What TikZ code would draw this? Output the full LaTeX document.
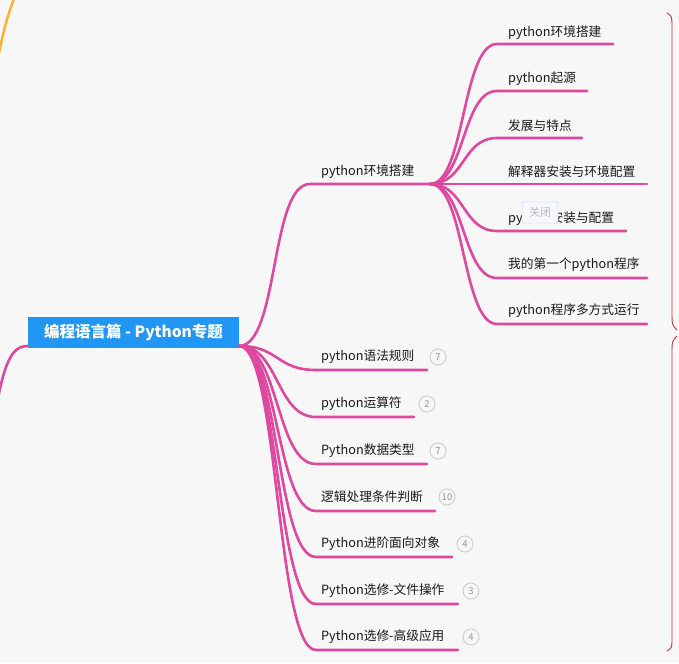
\documentclass[tikz,border=0pt]{standalone}
\usepackage{fontspec}
\setmainfont{Noto Sans CJK SC}
\definecolor{bgc}{RGB}{247,247,247}
\definecolor{pinkc}{RGB}{222,72,158}
\definecolor{rootc}{RGB}{33,150,243}
\definecolor{orangec}{RGB}{253,178,40}
\definecolor{bracec}{RGB}{196,52,52}
\definecolor{textc}{RGB}{25,25,25}
\definecolor{badgec}{RGB}{208,208,208}
\definecolor{badgenum}{RGB}{150,150,150}
\begin{document}
\begin{tikzpicture}[x=1pt,y=-1pt,
  lbl/.style={anchor=west, inner sep=0pt, font=\fontsize{12.7}{14}\selectfont, text=textc},
  br/.style={draw=pinkc, line width=2.6pt, line cap=round},
  badge/.style={circle, draw=badgec, line width=1pt, minimum size=16pt, inner sep=0pt, font=\fontsize{9.5}{10}\selectfont, text=badgenum},
  rootbox/.style={fill=rootc, text=white, minimum width=211pt, minimum height=31pt, inner sep=0pt, font=\fontsize{15.5}{17}\selectfont\bfseries},
  bracestyle/.style={draw=bracec, line width=0.9pt},
  closebox/.style={draw=black!22, fill=white!97!blue, rounded corners=2pt, minimum width=36pt, minimum height=21pt, inner sep=0pt, text=black!28, font=\fontsize{11}{12}\selectfont}
]
\useasboundingbox (0,0) rectangle (679,663);
\fill[bgc] (0,0) rectangle (679,663);
\begin{scope}
\clip (0,0) rectangle (679,663);
% orange curve top-left
\coordinate (o1) at (15,-4);
\coordinate (o2) at (-2,58);
\draw[draw=orangec, line width=2.4pt] (o1) .. controls (8,14) and (3,32) .. (o2);
% root
\node[rootbox] (root) at (133.5,332.5) {编程语言篇 - Python专题};
\coordinate (rs) at (239,346);
\coordinate (rl) at (28,346);
\coordinate (lfar) at (-6,420);
\draw[br] (rl) .. controls (12,346) and (4,360) .. (lfar);
% level 1 first child
\node[lbl] (a) at (321,172) {python环境搭建};
\coordinate (as) at (310,184);
\coordinate (ae) at (430,184);
\draw[br] (rs) .. controls +(40,0) and +(-40,0) .. (as) -- (ae);
% level 2 children
\foreach \n/\t/\yt/\yl/\xe in {
  b1/python环境搭建/33/44/613,
  b2/python起源/79/91/587,
  b3/发展与特点/126/138/582,
  b4/解释器安装与环境配置/172/184/647,
  b5/python安装与配置/219/231/626,
  b6/我的第一个python程序/265/278/647,
  b7/python程序多方式运行/311/324/647}{
  \node[lbl] (\n) at (508,\yt) {\t};
  \coordinate (\n s) at (497,\yl);
  \coordinate (\n e) at (\xe,\yl);
  \draw[br] (ae) .. controls +(35,0) and +(-35,0) .. (\n s) -- (\n e);
}
% other level 1 children
\foreach \n/\t/\yt/\yl/\xe/\bx/\num in {
  c1/python语法规则/357/370/427/438/7,
  c2/python运算符/404/417/414/427/2,
  c3/Python数据类型/451/464/427/438/7,
  c4/逻辑处理条件判断/497/511/435/447/10,
  c5/Python进阶面向对象/544/557/452/465/4,
  c6/Python选修-文件操作/591/604/458/471/3,
  c7/Python选修-高级应用/637/650/458/471/4}{
  \node[lbl] (\n) at (321,\yt) {\t};
  \coordinate (\n s) at (316,\yl);
  \coordinate (\n e) at (\xe,\yl);
  \draw[br] (rs) .. controls +(40,0) and +(-40,0) .. (\n s) -- (\n e);
  \node[badge] (\n b) at (\bx,\yt) {\num};
}
% braces on the right
\coordinate (k1) at (667,13);
\coordinate (k2) at (677,330);
\coordinate (k3) at (677,336);
\coordinate (k4) at (667,651);
\draw[bracestyle] (k1) .. controls (672,16) .. (672,30) -- (672,312) .. controls (672,325) .. (k2);
\draw[bracestyle] (k3) .. controls (672,341) .. (672,354) -- (672,636) .. controls (672,648) .. (k4);
\end{scope}
% close tooltip overlay (covers part of a label, as in the reference)
\node[closebox] (close) at (540,212.5) {关闭};
\end{tikzpicture}
\end{document}
